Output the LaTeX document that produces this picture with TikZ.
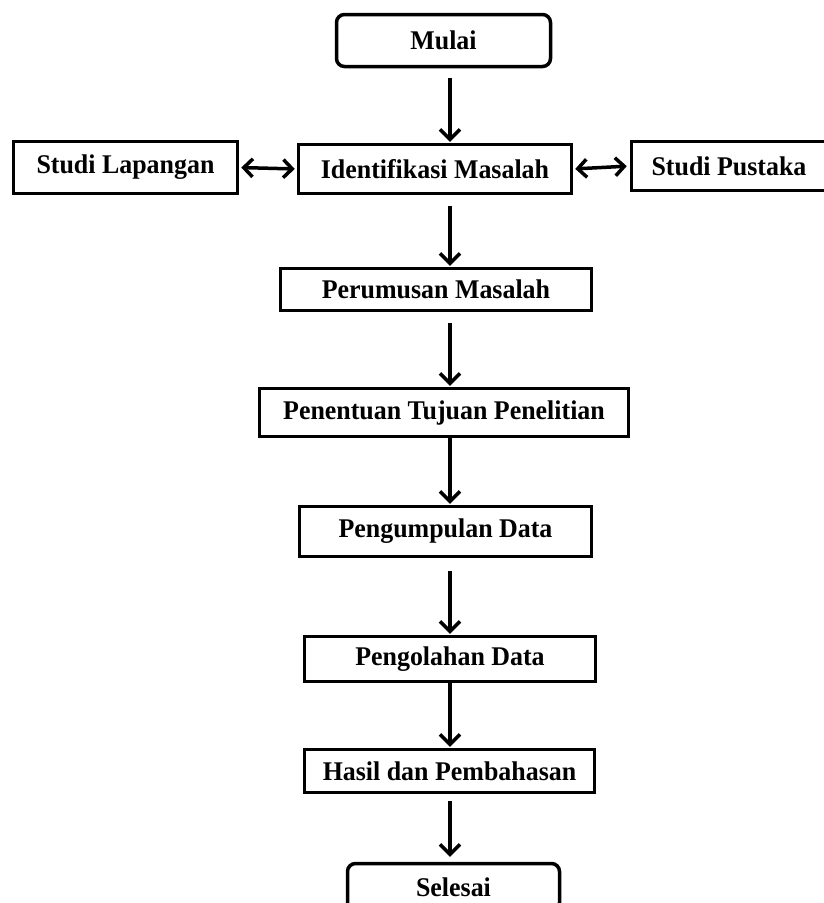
\documentclass[tikz,border=0pt]{standalone}
\usepackage{fontspec}
\setmainfont{Liberation Serif}[FakeStretch=0.96]
\usepackage{tikz}
\usetikzlibrary{arrows.meta}
\tikzstyle{flowchart} = [x = 1pt, y = -1pt]
\tikzstyle{boxStyle} = [draw=black, fill=white, line width=3.5pt, inner sep=0pt, font=\fontsize{27}{30}\selectfont\bfseries]
\tikzstyle{roundBoxStyle} = [boxStyle, rounded corners = 8pt]
\tikzstyle{arrowStyle} = [line width=3.5pt, -{Straight Barb[length=10pt, width=20pt]}]
\tikzstyle{doubleArrowStyle} = [line width=3.5pt, {Straight Barb[length=9pt, width=18pt]}-{Straight Barb[length=9pt, width=18pt]}]
\newcommand{\stepBox}[7]{\node [#1, minimum width=#5pt, minimum height=#6pt] (#2) at (#3,#4) {#7};}
\newcommand{\flowArrow}[4]{\draw [arrowStyle, shorten <=#3pt, shorten >=#4pt] (#1.south -| flowAxis) -- (#2.north -| flowAxis);}
\begin{document}
\begin{tikzpicture}[flowchart]
    \clip (0,0) rectangle (824,903);
    \coordinate (flowAxis) at (450,0);
    % boxes
    \stepBox{roundBoxStyle}{mulai}{443.5}{40.5}{214}{52}{Mulai}
    \stepBox{boxStyle}{lapangan}{125.5}{167.5}{224}{52}{Studi Lapangan}
    \stepBox{boxStyle}{identifikasi}{435}{169}{273}{49}{Identifikasi Masalah}
    \stepBox{boxStyle}{pustaka}{729}{166}{195}{49}{Studi Pustaka}
    \stepBox{boxStyle}{perumusan}{436}{289.5}{311}{42}{Perumusan Masalah}
    \stepBox{boxStyle}{tujuan}{444}{412.5}{369}{48}{Penentuan Tujuan Penelitian}
    \stepBox{boxStyle}{pengumpulan}{445.5}{531.5}{292}{50}{Pengumpulan Data}
    \stepBox{boxStyle}{pengolahan}{450}{659}{291}{45}{Pengolahan Data}
    \stepBox{boxStyle}{hasil}{449.5}{771}{290}{43}{Hasil dan Pembahasan}
    \stepBox{roundBoxStyle}{selesai}{453.5}{887}{212}{47}{Selesai}
    % arrows
    \flowArrow{mulai}{identifikasi}{10}{1}
    \flowArrow{identifikasi}{perumusan}{11}{1}
    \flowArrow{perumusan}{tujuan}{11}{1}
    \flowArrow{tujuan}{pengumpulan}{0}{1}
    \flowArrow{pengumpulan}{pengolahan}{13}{1}
    \flowArrow{pengolahan}{hasil}{0}{1}
    \flowArrow{hasil}{selesai}{7}{5}
    \draw [doubleArrowStyle, shorten <=2pt, shorten >=2pt] (lapangan.east) -- (identifikasi.west);
    \draw [doubleArrowStyle, shorten <=2pt, shorten >=3pt] (identifikasi.east) -- (pustaka.west);
\end{tikzpicture}
\end{document}
